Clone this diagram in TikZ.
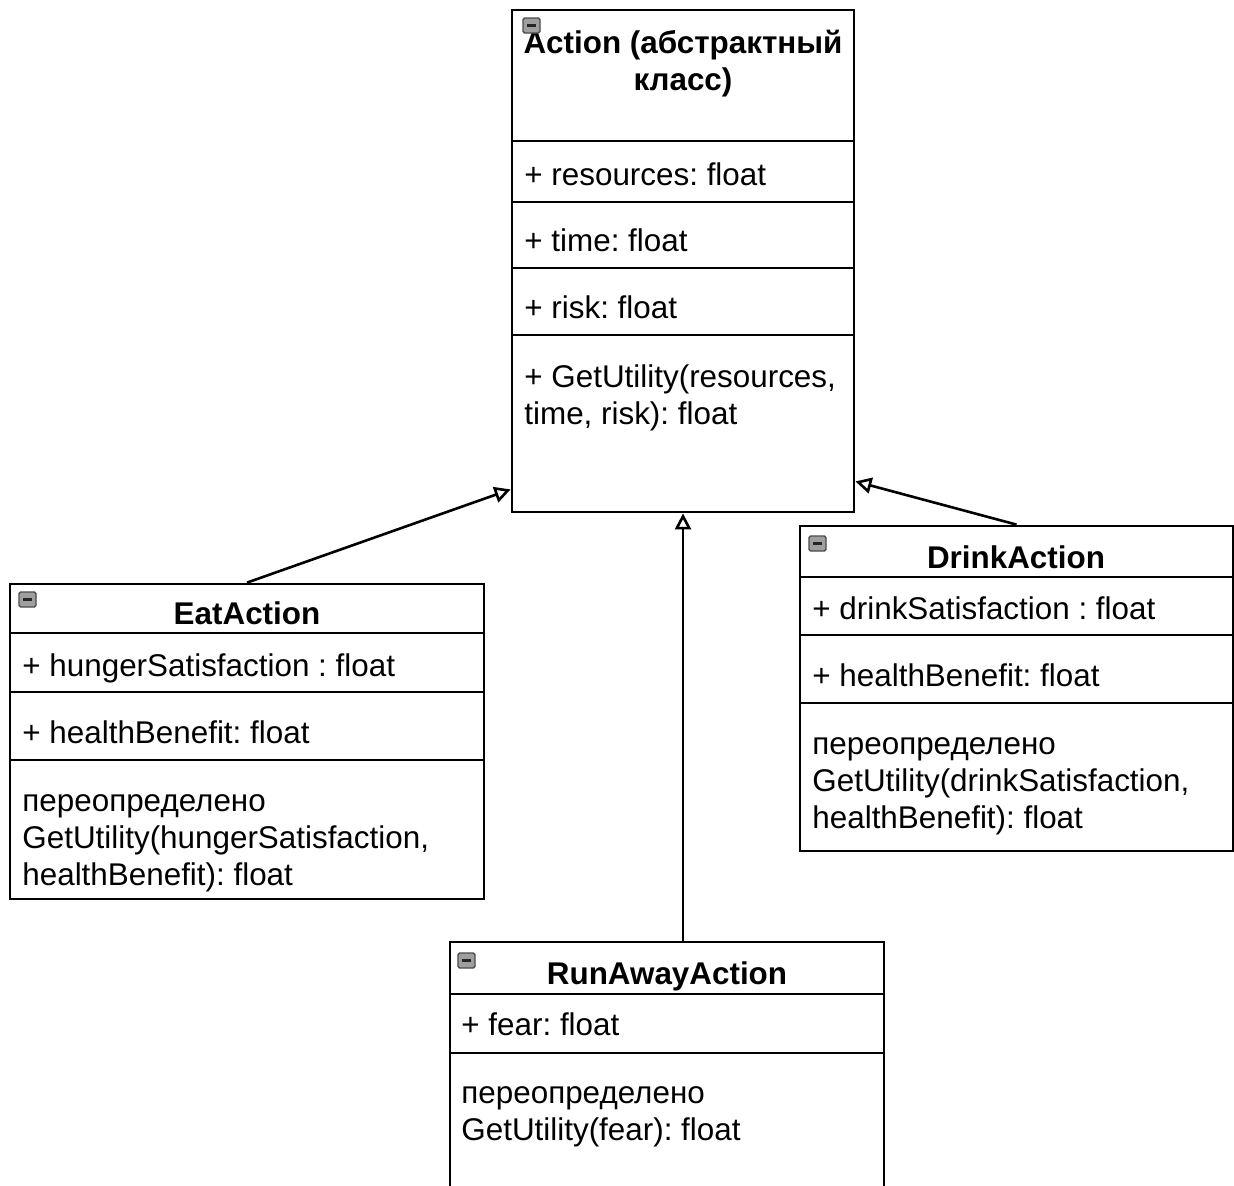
\documentclass[tikz,border=0pt]{standalone}
\usepackage{fontspec}
\setmainfont{Liberation Sans}
\frenchspacing
\usetikzlibrary{arrows.meta,fit}

\begin{document}
\begin{tikzpicture}[x=.5pt, y=-.5pt,
  classbox/.style={draw, line width=1.4pt, inner sep=0pt},
  compline/.style={line width=1.4pt},
  foldicon/.style={draw=black!70, fill=gray!75, line width=.7pt, rounded corners=.8pt},
  member/.style={anchor=base west, inner sep=0pt, font=\fontsize{15.7}{18.5}\selectfont},
  memberblock/.style={anchor=north west, inner sep=0pt, align=left, font=\fontsize{15.7}{18.5}\selectfont},
  classname/.style={anchor=base, inner sep=0pt, font=\bfseries\fontsize{15.7}{18.5}\selectfont},
  inherit/.style={-{Triangle[open, length=8pt, width=8pt]}, line width=1.3pt},
]
\newcommand{\compline}[3]{\draw[compline] (#1,#3) -- (#2,#3);}%
\newcommand{\foldbox}[2]{\draw[foldicon] (#1,#2) rectangle +(17,15);
  \draw[line width=1.2pt, black!85] (#1+4,#2+7.5) -- +(9,0);}%
\fill[white] (0,0) rectangle (1234,1185);
\useasboundingbox (0,0) rectangle (1234,1185);

% abstract class
\node[classbox, fit={(512,10) (854,512)}] (action) {};
\compline{512}{854}{141}
\compline{512}{854}{202}
\compline{512}{854}{268}
\compline{512}{854}{335}
\node[classname, anchor=north, align=center] (action-name) at (683,27) {\strut Action (абстрактный\\класс)};
\foldbox{523}{18}
\node[member] (action-res) at (524,185) {+ resources: float};
\node[member] (action-time) at (524,251) {+ time: float};
\node[member] (action-risk) at (524,318) {+ risk: float};
\node[memberblock] (action-util) at (524,361) {\strut + GetUtility(resources,\\time, risk): float};

% EatAction
\node[classbox, fit={(10,584) (484,899)}] (eat) {};
\compline{10}{484}{633}
\compline{10}{484}{692}
\compline{10}{484}{760}
\foldbox{19}{592}
\node[classname] (eat-name) at (247,624) {EatAction};
\node[member] (eat-hunger) at (22,676) {+ hungerSatisfaction : float};
\node[member] (eat-health) at (22,743) {+ healthBenefit: float};
\node[memberblock] (eat-util) at (22,785) {\strut переопределено\\GetUtility(hungerSatisfaction,\\healthBenefit): float};

% DrinkAction
\node[classbox, fit={(800,526) (1233,851)}] (drink) {};
\compline{800}{1233}{577}
\compline{800}{1233}{635}
\compline{800}{1233}{703}
\foldbox{809}{536}
\node[classname] (drink-name) at (1016,568) {DrinkAction};
\node[member] (drink-sat) at (812,619) {+ drinkSatisfaction : float};
\node[member] (drink-health) at (812,686) {+ healthBenefit: float};
\node[memberblock] (drink-util) at (812,728) {\strut переопределено\\GetUtility(drinkSatisfaction,\\healthBenefit): float};

% RunAwayAction
\node[classbox, fit={(450,942) (884,1200)}] (run) {};
\compline{450}{884}{994}
\compline{450}{884}{1053}
\foldbox{458}{953}
\node[classname] (run-name) at (667,984) {RunAwayAction};
\node[member] (run-fear) at (461,1035) {+ fear: float};
\node[memberblock] (run-util) at (461,1077) {\strut переопределено\\GetUtility(fear): float};

% inheritance
\draw[inherit] (eat.north) -- ([yshift=12pt]action.south west);
\draw[inherit] (drink.north) -- ([yshift=16pt]action.south east);
\draw[inherit] (run.north -| action.south) -- (action.south);

\end{tikzpicture}
\end{document}
